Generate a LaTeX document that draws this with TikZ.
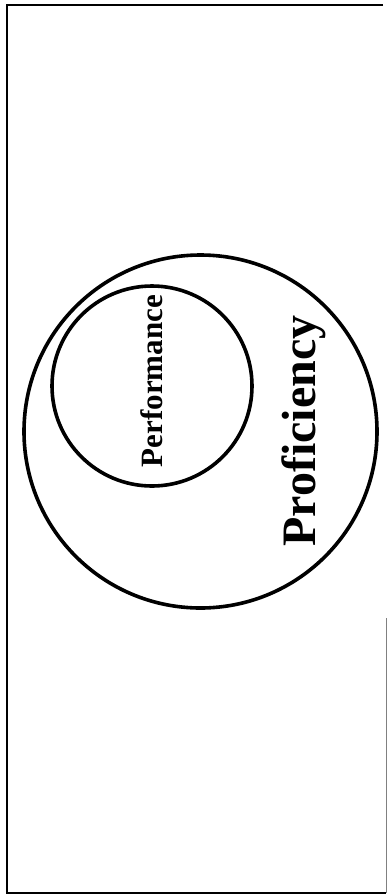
\documentclass[tikz,border=0pt]{standalone}
\usepackage{fontspec}
\setmainfont{Liberation Serif}[BoldFont={Liberation Serif Bold}]
\begin{document}
\begin{tikzpicture}[x=1pt,y=-1pt,
  ring/.style={draw=black,line width=3.6pt},
  frame/.style={draw=black,line width=2.4pt},
  lbl/.style={rotate=90,anchor=base,inner sep=0pt}]
\useasboundingbox (0,0) rectangle (387,895);
\draw[frame] (383,5) -- (7,5) -- (7,893) -- (386,893);
\draw[draw=gray,line width=0.8pt] (386,893) -- (386,618);
\draw[ring] (200.5,431.5) circle[radius=176.5];
\draw[ring] (152,386) circle[radius=100];
\node[lbl,font=\bfseries\fontsize{31}{31}\selectfont] (perf) at (162,381) {Performance};
\node[lbl,font=\bfseries\fontsize{48}{48}\selectfont] (prof) at (315,431) {Proficiency};
\end{tikzpicture}
\end{document}
